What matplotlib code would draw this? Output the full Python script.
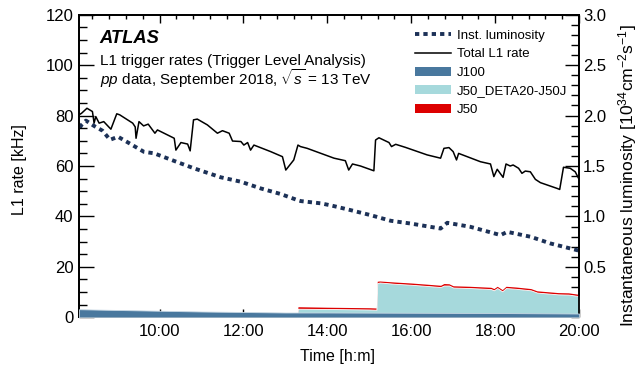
import numpy as np
import matplotlib
matplotlib.use("Agg")
import matplotlib.pyplot as plt
from matplotlib.lines import Line2D
from matplotlib.patches import Patch
from matplotlib.ticker import MultipleLocator, FixedLocator, FuncFormatter

plt.rcParams['font.family'] = ['Liberation Sans', 'DejaVu Sans']
plt.rcParams['mathtext.fontset'] = 'custom'
plt.rcParams['mathtext.rm'] = 'Liberation Sans'
plt.rcParams['mathtext.it'] = 'Liberation Sans:italic'
plt.rcParams['mathtext.bf'] = 'Liberation Sans:bold'

# total L1 rate [kHz] vs time [h]
t_rate = [8.10, 8.14, 8.27, 8.36, 8.40, 8.44, 8.48, 8.56, 8.67, 8.84, 8.98, 9.05,
          9.36, 9.42, 9.44, 9.51, 9.62, 9.73, 9.89, 9.95, 10.35, 10.39, 10.51, 10.67,
          10.73, 10.81, 10.90, 11.14, 11.38, 11.50, 11.66, 11.74, 11.94, 12.01, 12.10,
          12.17, 12.25, 12.65, 12.93, 13.01, 13.20, 13.30, 13.36, 13.52, 14.16, 14.43,
          14.51, 14.60, 14.79, 15.11, 15.15, 15.23, 15.47, 15.53, 15.63, 15.86, 16.38,
          16.70, 16.78, 16.90, 17.00, 17.08, 17.13, 17.65, 17.89, 17.97, 18.05, 18.19,
          18.26, 18.36, 18.43, 18.56, 18.64, 18.72, 18.84, 18.96, 19.08, 19.48, 19.54,
          19.63, 19.79, 19.91, 19.99]
total_rate = [80.5, 80.9, 82.9, 82.0, 81.6, 77.0, 79.6, 77.0, 77.6, 74.6, 80.7, 80.3,
              77.0, 75.5, 71.0, 77.6, 75.9, 76.6, 73.0, 74.3, 71.0, 66.3, 69.3, 68.7,
              66.0, 78.3, 78.6, 76.3, 73.0, 74.0, 73.0, 69.9, 69.7, 68.3, 69.3,
              66.3, 68.3, 65.7, 63.7, 58.4, 62.4, 68.3, 67.7, 67.0, 63.1, 62.1,
              58.4, 60.8, 60.0, 58.1, 70.3, 71.2, 69.3, 67.7, 68.6, 67.4, 64.4,
              63.1, 67.0, 67.3, 65.7, 62.4, 65.0, 61.7, 60.8, 55.8, 58.7, 55.5,
              60.8, 60.0, 60.4, 59.1, 57.1, 58.0, 57.7, 54.7, 53.4, 51.1, 50.7,
              59.5, 59.1, 57.7, 55.1]

# instantaneous luminosity [1e34 cm-2 s-1]
t_lumi = [8.10, 8.14, 8.245, 8.44, 8.64, 8.82, 9.01, 9.24, 9.63, 9.87, 10.35, 10.82,
          11.46, 11.94, 12.41, 12.89, 13.30, 13.37, 13.84, 14.08, 14.55, 15.03, 15.51,
          15.98, 16.70, 16.86, 17.41, 18.13, 18.29, 18.85, 19.32, 19.95, 20.00]
lumi = [1.88, 1.907, 1.95, 1.897, 1.85, 1.76, 1.79, 1.735, 1.64, 1.626, 1.55, 1.477,
        1.388, 1.344, 1.278, 1.222, 1.16, 1.152, 1.13, 1.11, 1.063, 1.013, 0.957,
        0.93, 0.88, 0.937, 0.897, 0.815, 0.847, 0.798, 0.732, 0.666, 0.66]

# J100 rate [kHz]
t_j100 = [8.08, 9.0, 10.0, 11.0, 12.0, 13.0, 14.0, 16.0, 18.0, 20.0]
j100 = [3.2, 2.9, 2.6, 2.3, 2.1, 1.9, 1.9, 1.8, 1.7, 1.5]

# J50 and J50_DETA20-J50J rates [kHz]
t_j50 = [13.28, 13.30, 14.0, 15.0, 15.17, 15.19, 15.25, 15.6, 16.0, 16.4, 16.70, 16.78,
         16.90, 17.0, 17.4, 17.9, 17.97, 18.05, 18.17, 18.26, 18.5, 18.85, 19.0, 19.5,
         19.75, 20.0]
j50 = [0, 4.2, 4.0, 3.8, 3.7, 14.3, 14.4, 14.0, 13.6, 13.1, 12.7, 13.4,
       13.3, 12.5, 12.3, 11.9, 11.4, 12.3, 11.0, 12.3, 12.0, 11.4, 10.5, 9.8,
       9.7, 9.1]
j50_deta = [0, 3.4, 3.3, 3.1, 3.0, 13.6, 13.8, 13.3, 12.9, 12.4, 12.0, 12.6,
            12.6, 11.8, 11.6, 11.2, 10.7, 11.6, 10.3, 11.6, 11.3, 10.7, 9.8, 9.1,
            9.0, 8.4]

c_lumi = '#1c3157'
c_j100 = '#49789e'
c_deta = '#a6d9dc'
c_j50 = '#dd0000'

fig = plt.figure(figsize=(6.44, 3.71), dpi=100)
ax = fig.add_axes([79/644, 1-317.3/371, 500/644, 302.6/371])
ax2 = ax.twinx()

ax.fill_between(t_j50, 0, j50, color=c_j50, lw=0, zorder=1)
ax.fill_between(t_j50, 0, j50_deta, color=c_deta, edgecolor='white', lw=0.6, zorder=2)
ax.fill_between(t_j100, 0, j100, color=c_j100, edgecolor='#c8d8e4', lw=0.6, zorder=3)
ax.plot(t_rate, total_rate, color='black', lw=1.1, zorder=5)

ax2.plot(t_lumi, lumi, color=c_lumi, lw=2.8, linestyle=(0, (1.1, 1.05)), zorder=4)

ax.set_xlim(8.08, 20.0)
ax.set_ylim(0, 120)
ax2.set_ylim(0, 3.0)
ax.set_zorder(ax2.get_zorder() + 1)
ax.patch.set_visible(False)

ax.xaxis.set_major_locator(MultipleLocator(2))
ax.xaxis.set_minor_locator(FixedLocator(np.arange(8.4, 20.01, 0.4)))
ax.xaxis.set_major_formatter(FuncFormatter(lambda v, p: "%d:%02d" % (int(v), round((v - int(v)) * 60))))
ax.yaxis.set_major_locator(MultipleLocator(20))
ax.yaxis.set_minor_locator(MultipleLocator(5))
ax2.yaxis.set_major_locator(FixedLocator([0.5, 1.0, 1.5, 2.0, 2.5, 3.0]))
ax2.yaxis.set_minor_locator(MultipleLocator(0.1))
ax2.yaxis.set_major_formatter(FuncFormatter(lambda v, p: "%.1f" % v))

fs = 12
ax.tick_params(axis='x', which='both', direction='in', top=True, bottom=True, labelsize=fs, pad=5, width=1)
ax.tick_params(axis='x', which='major', length=6)
ax.tick_params(axis='x', which='minor', length=3)
ax.tick_params(axis='y', which='both', direction='in', left=True, right=False, labelsize=fs, pad=4, width=1)
ax.tick_params(axis='y', which='major', length=11)
ax.tick_params(axis='y', which='minor', length=5.5)
ax2.tick_params(axis='y', which='both', direction='in', right=True, left=False, labelsize=fs, pad=3, width=1)
ax2.tick_params(axis='y', which='major', length=10)
ax2.tick_params(axis='y', which='minor', length=5.5)
for a in (ax, ax2):
    for s in a.spines.values():
        s.set_linewidth(1.3)

ax.set_xlabel("Time [h:m]", fontsize=11.5, va='center')
ax.xaxis.set_label_coords(0.518, -0.131)
ax.set_ylabel("L1 rate [kHz]", fontsize=11.5, va='center')
ax.yaxis.set_label_coords(-0.118, 0.487)
ax2.set_ylabel(r"Instantaneous luminosity [10$^{34}$cm$^{-2}$s$^{-1}$]", fontsize=12.6, va='center')
ax2.yaxis.set_label_coords(1.098, 0.47)

ax.text(99/644, 1-43/371, "ATLAS", transform=fig.transFigure, fontsize=13.2, fontweight='bold',
        fontstyle='italic', ha='left', va='baseline')
ax.text(100.5/644, 1-65/371, "L1 trigger rates (Trigger Level Analysis)", transform=fig.transFigure,
        fontsize=11, ha='left', va='baseline')
ax.text(100.5/644, 1-84.5/371, r"$pp$ data, September 2018, $\sqrt{s}$ = 13 TeV", transform=fig.transFigure,
        fontsize=11, ha='left', va='baseline')

handles = [Line2D([], [], color=c_lumi, lw=2.8, linestyle=(0, (1.1, 1.05))),
           Line2D([], [], color='black', lw=1.1),
           Patch(facecolor=c_j100, edgecolor='none'),
           Patch(facecolor=c_deta, edgecolor='none'),
           Patch(facecolor=c_j50, edgecolor='none')]
labels = ["Inst. luminosity", "Total L1 rate", "J100", "J50_DETA20-J50J", "J50"]
leg = ax.legend(handles, labels, loc='upper left', bbox_to_anchor=(415/644, 1-29.5/371),
                bbox_transform=fig.transFigure, frameon=False, fontsize=9.5, borderpad=0,
                borderaxespad=0, handlelength=2.7, handletextpad=0.5, labelspacing=0.5,
                handleheight=0.65)

fig.savefig("out.png", dpi=100)
